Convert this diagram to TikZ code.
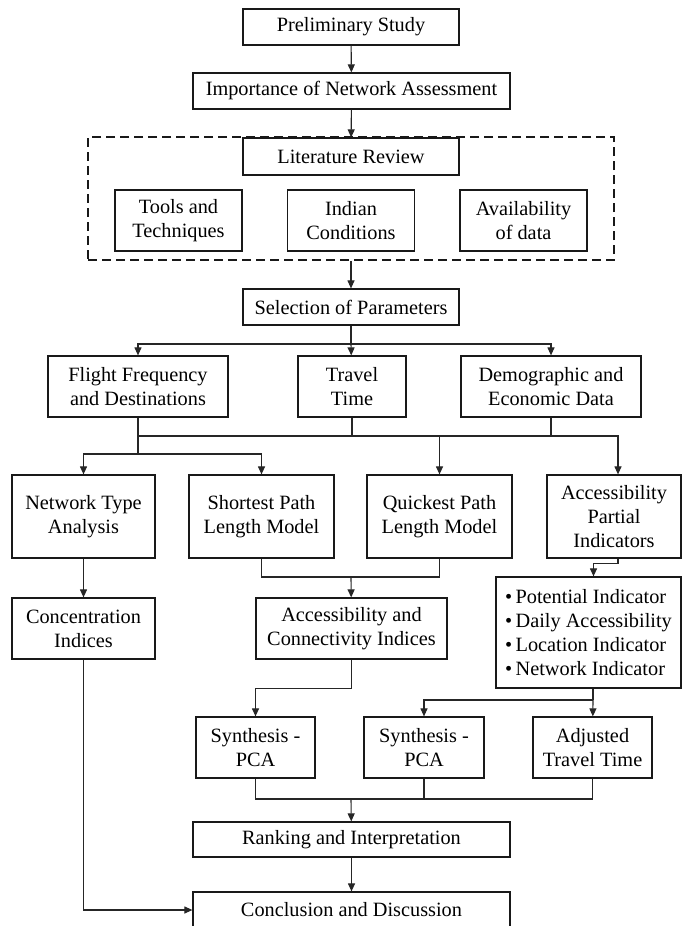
\documentclass[tikz,border=0pt]{standalone}
\usepackage{fontspec}
\setmainfont{Liberation Serif}
\usetikzlibrary{arrows.meta,positioning}

\begin{document}
\begin{tikzpicture}[x=1pt,y=-1pt,->,>={Triangle[length=8pt,width=7pt]},line width=1.1pt,draw=black!85,node distance=172.5pt,
  font=\fontsize{20.3}{24}\selectfont]
  \tikzstyle{block}=[draw=black!90,fill=white,text=black,align=center,inner sep=1pt,line width=1.2pt]
  \tikzstyle{frame}=[draw=black!90,dash pattern=on 9pt off 5pt,line width=1.8pt]

  \useasboundingbox (0,0) rectangle (682,926);

  % survey of literature
  \node[block,minimum width=216,minimum height=36] (PS) at (351,27) {Preliminary Study};
  \node[block,minimum width=317,minimum height=36] (IN) at (351.5,91) {Importance of Network Assessment};
  \node[frame,minimum width=526,minimum height=123] (LB) at (351,198.5) {};
  \node[block,minimum width=216,minimum height=37] (LR) at (351,156.5) {Literature Review};
  \node[block,minimum width=127,minimum height=61] (IC) at (351,220.5) {Indian\\Conditions};
  \node[block,minimum width=127,minimum height=61] (TT) [left of=IC] {Tools and\\Techniques};
  \node[block,minimum width=127,minimum height=61] (AD) [right of=IC] {Availability\\of data};

  % parameters
  \node[block,minimum width=216,minimum height=36] (SP) at (351,307) {Selection of Parameters};
  \node[block,minimum width=180,minimum height=61] (FF) at (138,386.5) {Flight Frequency\\and Destinations};
  \node[block,minimum width=108,minimum height=61] (TV) at (352,386.5) {Travel\\Time};
  \node[block,minimum width=180,minimum height=61] (DE) at (551,386.5) {Demographic and\\Economic Data};

  % models
  \node[block,minimum width=143,minimum height=83] (NT) at (83.5,516.5) {Network Type\\Analysis};
  \node[block,minimum width=145,minimum height=83] (SL) at (261.5,516.5) {Shortest Path\\Length Model};
  \node[block,minimum width=145,minimum height=83] (QL) at (439.5,516.5) {Quickest Path\\Length Model};
  \node[block,minimum width=134,minimum height=83] (AP) at (614,516.5) {Accessibility\\Partial\\Indicators};

  \node[block,minimum width=143,minimum height=61] (CI) at (83.5,628.5) {Concentration\\Indices};
  \node[block,minimum width=191,minimum height=61] (AC) at (351.5,628.5) {Accessibility and\\Connectivity Indices};
  \node[block,minimum width=185,minimum height=111,align=left] (BL) at (588.5,632.5)
    {\textbullet\,Potential Indicator\\\textbullet\,Daily Accessibility\\\textbullet\,Location Indicator\\\textbullet\,Network Indicator};

  \node[block,minimum width=119,minimum height=61] (S1) at (255.5,747.5) {Synthesis -\\PCA};
  \node[block,minimum width=120,minimum height=61] (S2) at (424,747.5) {Synthesis -\\PCA};
  \node[block,minimum width=119,minimum height=61] (AT) at (592.5,747.5) {Adjusted\\Travel Time};

  \node[block,minimum width=317,minimum height=35] (RI) at (351.5,839.5) {Ranking and Interpretation};
  \node[block,minimum width=317,minimum height=36] (CD) at (351.5,910) {Conclusion and Discussion};

  % junctions
  \coordinate (j1) at (351,344);
  \coordinate (j2) at (138,436);
  \coordinate (j3) at (138,454);
  \coordinate (j4) at (351,577);
  \coordinate (j5) at (593,700);
  \coordinate (j6) at (351,799);

  \path (PS) edge (IN);
  \path (IN) edge (LR);
  \path (LB) edge (SP);

  \draw[-] (SP) -- (j1);
  \draw (j1) -| (FF);
  \draw (j1) -- (TV);
  \draw (j1) -| (DE);

  \draw[-] (FF) -- (j3);
  \draw[-] (TV) -- (TV |- j2);
  \draw[-] (DE) -- (DE |- j2);
  \draw (j3) -| (NT);
  \draw (j3) -| (SL);
  \draw (j2) -| (QL);
  \draw (j2) -| ([xshift=4pt]AP.north);

  \draw (NT) -- (CI);
  \draw[-] (SL) |- (j4);
  \draw[-] (QL) |- (j4);
  \draw (j4) -- (AC);
  \draw ([xshift=4pt]AP.south) -- ++(0,5) -| ([xshift=5pt]BL.north);

  \draw (AC.south) -- ++(0,29) -| (S1);
  \draw[-] ([xshift=4.5pt]BL.south) -- (j5);
  \draw (j5) -| (S2);
  \draw (j5) -- (AT);

  \draw[-] (S1) |- (j6);
  \draw[-] (AT) |- (j6);
  \draw[-] (S2) -- (S2 |- j6);
  \draw (j6) -- (RI);
  \draw (RI) -- (CD);
  \draw (CI) |- (CD);
\end{tikzpicture}
\end{document}
